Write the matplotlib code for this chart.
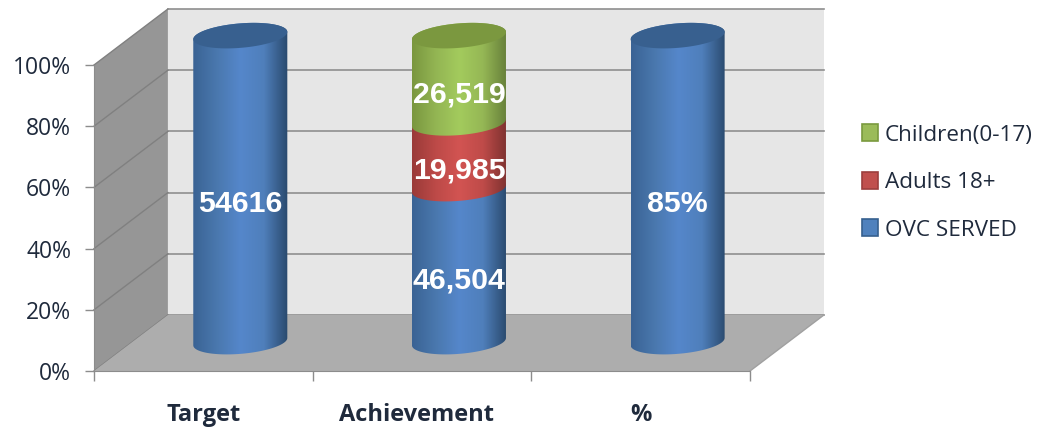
#!/usr/bin/env python
"""3D style stacked cylinder chart, OVC served"""

import numpy as np
import matplotlib
matplotlib.use('Agg')
import matplotlib.pyplot as plt
from matplotlib.colors import LinearSegmentedColormap
from matplotlib.patches import Patch, Polygon

categories = ['Target', 'Achievement', '%']
ovc_served = [54616, 46504, 85]
adults = [0, 19985, 0]
children = [0, 26519, 0]
ovc_labels = ['54616', '46,504', '85%']
adults_labels = ['', '19,985', '']
children_labels = ['', '26,519', '']
y_ticks = [0, 20, 40, 60, 80, 100]

# Depth of the fake 3D box, in data units
DX = 0.338
DY = 18.3
# Cylinder shape
RX = 0.215
RY = 4.0
SHEAR = 1.2
AXIS_DX = 0.169
AXIS_DY = 9.6
LABEL_DY = 4.7

SERIES_COLORS = {
    'blue': ['#3a6394', '#4a78ae', '#5587cb', '#4f7fbb', '#2a4a6e'],
    'red': ['#9a3a38', '#bd4a48', '#d25452', '#bf4b49', '#7e3230'],
    'green': ['#7a973f', '#93b553', '#a3cb5d', '#95b755', '#67803a'],
}
TOP_COLORS = {'blue': '#38608f', 'red': '#a33e3c', 'green': '#7b983f'}
EDGE = '#8f8f8f'

fig = plt.figure(figsize=(10.43, 4.29), dpi=100)
ax = fig.add_axes([94 / 1043, 58 / 429, 656 / 1043, 306 / 429])
ax.set_xlim(-0.5, 2.5)
ax.set_ylim(0, 100)
ax.patch.set_visible(False)


def cylinder_outline(cx, y0, y1):
    t = np.linspace(0, np.pi, 80)
    # front arc of the base, then back arc of the top
    x_low = cx - RX * np.cos(t)
    y_low = y0 - RY * np.sin(t) - SHEAR * np.cos(t)
    x_up = cx + RX * np.cos(t)
    y_up = y1 + RY * np.sin(t) + SHEAR * np.cos(t)
    return np.r_[np.c_[x_low, y_low], np.c_[x_up, y_up]]


def draw_section(cx, y0, y1, color, z):
    poly = Polygon(cylinder_outline(cx, y0, y1), closed=True, transform=ax.transData,
                   fc='none', ec='none')
    ax.add_patch(poly)
    cmap = LinearSegmentedColormap.from_list('c', SERIES_COLORS[color])
    im = ax.imshow(np.linspace(0, 1, 128).reshape(1, -1), cmap=cmap, aspect='auto',
                   extent=(cx - RX, cx + RX, y0 - RY - 2, y1 + RY + 2), zorder=z,
                   interpolation='bilinear')
    im.set_clip_box(fig.bbox)
    im.set_clip_path(poly)


def draw_top(cx, y1, color, z):
    t = np.linspace(0, 2 * np.pi, 160)
    pts = np.c_[cx + RX * np.cos(t), y1 + RY * np.sin(t) + SHEAR * np.cos(t)]
    ax.add_patch(Polygon(pts, closed=True, fc=TOP_COLORS[color], ec='none',
                         zorder=z, clip_on=False))


# Walls and floor
ax.add_patch(Polygon([(-0.5 + DX, DY), (2.5 + DX, DY), (2.5 + DX, 100 + DY), (-0.5 + DX, 100 + DY)],
                     fc='#e6e6e6', ec='none', clip_on=False, zorder=1))
ax.add_patch(Polygon([(-0.5, 0), (-0.5 + DX, DY), (-0.5 + DX, 100 + DY), (-0.5, 100)],
                     fc='#969696', ec='none', clip_on=False, zorder=1))
ax.add_patch(Polygon([(-0.5, 0), (2.5, 0), (2.5 + DX, DY), (-0.5 + DX, DY)],
                     fc='#adadad', ec='none', clip_on=False, zorder=1.5))
for v in y_ticks:
    ax.plot([-0.5 + DX, 2.5 + DX], [v + DY, v + DY], color=EDGE, lw=1.2, clip_on=False, zorder=1.2)
    ax.plot([-0.5, -0.5 + DX], [v, v + DY], color='#808080', lw=1.0, clip_on=False, zorder=1.2)
ax.plot([2.5, 2.5 + DX], [0, DY], color='#a0a0a0', lw=1.0, clip_on=False, zorder=1.6)

# Stacked cylinders, scaled to 100%
totals = np.array(ovc_served) + np.array(adults) + np.array(children)
stack = [(ovc_served, ovc_labels, 'blue'), (adults, adults_labels, 'red'), (children, children_labels, 'green')]
for i in range(len(categories)):
    cx = i + AXIS_DX
    base = 0.0
    z = 2
    last = 'blue'
    for values, labels, color in stack:
        if values[i] == 0:
            continue
        share = 100.0 * values[i] / totals[i]
        draw_section(cx, base + AXIS_DY, base + share + AXIS_DY, color, z)
        ax.text(cx, base + share / 2 + LABEL_DY, labels[i], color='white', ha='center', va='center',
                fontsize=21.8, fontweight='bold', family='Liberation Sans', zorder=10)
        base += share
        z += 1
        last = color
    draw_top(cx, base + AXIS_DY, last, z)

ax.set_xlim(-0.5, 2.5)
ax.set_ylim(0, 100)

# Axes
for side in ['top', 'right']:
    ax.spines[side].set_visible(False)
ax.spines['left'].set_color('#8c8c8c')
ax.spines['bottom'].set_color('#8c8c8c')
ax.spines['bottom'].set_zorder(1.7)
ax.set_yticks(y_ticks)
ax.set_yticklabels([f'{v}%' for v in y_ticks], family='Open Sans', fontsize=16.5, color='#1f2a3c')
ax.set_xticks([-0.5, 0.5, 1.5, 2.5])
ax.set_xticklabels([])
ax.tick_params(axis='y', length=6.5, width=1.0, color='#8c8c8c', pad=10)
ax.tick_params(axis='x', length=7, width=1.0, color='#8c8c8c')
label_nudge = [0, -0.025, 0]
for i, name in enumerate(categories):
    ax.text(i + label_nudge[i], -14.3, name, ha='center', va='center', family='Open Sans', fontweight='bold',
            fontsize=17, color='#1f2a3c', clip_on=False)

# Legend
handles = [Patch(fc='#9bbb59', ec='#7a9a3e', lw=1.2), Patch(fc='#c0504d', ec='#9c3f3d', lw=1.2),
           Patch(fc='#4f81bd', ec='#36608f', lw=1.2)]
fig.legend(handles, ['Children(0-17)', 'Adults 18+', 'OVC SERVED'], loc='upper left',
           bbox_to_anchor=(842 / 1043, 1 - 104 / 429), frameon=False, handlelength=0.7, handleheight=0.78,
           handletextpad=0.3, labelspacing=1.17, labelcolor='#1f2a3c',
           prop={'family': 'Open Sans', 'size': 16.2})

fig.savefig('out.png', dpi=100)
